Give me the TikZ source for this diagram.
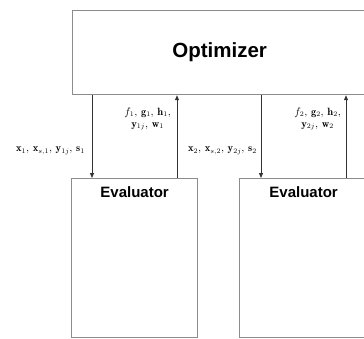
\documentclass[tikz,border=0pt]{standalone}
\usepackage{fontspec}
\setsansfont{Liberation Sans}
\usetikzlibrary{arrows.meta,positioning}
\begin{document}
\begin{tikzpicture}[x=1pt,y=-1pt,
  box/.style={draw=black!45,line width=1.2pt,fill=white,inner sep=0pt},
  arr/.style={draw=black!80,line width=0.8pt,-{Triangle[length=5pt,width=4pt]}},
  lab/.style={font=\fontsize{10.5}{12}\selectfont,inner sep=1pt,align=center},
  evt/.style={font=\sffamily\bfseries\fontsize{15}{17}\selectfont}]
\useasboundingbox (0,0) rectangle (364,338);
\clip (0,0) rectangle (364,338);
\node[box,anchor=north west,minimum width=294pt,minimum height=84pt,
  font=\sffamily\bfseries\fontsize{20.5}{24}\selectfont] (opt) at (72,10) {Optimizer};
\node[box,anchor=north west,minimum width=126pt,minimum height=159pt] (ev1) at (71,178) {};
\node[box,anchor=north west,minimum width=128pt,minimum height=159pt] (ev2) at (239,178) {};
\node[evt,below=5pt of ev1.north] (ev1t) {Evaluator};
\node[evt,below=5pt of ev2.north] (ev2t) {Evaluator};
% connectors
\coordinate (d1) at ([xshift=20pt]opt.south west);
\coordinate (u1) at ([xshift=105pt]opt.south west);
\coordinate (d2) at ([xshift=189pt]opt.south west);
\coordinate (u2) at ([xshift=274pt]opt.south west);
\draw[arr] (d1) -- (d1 |- ev1.north);
\draw[arr] (u1 |- ev1.north) -- (u1);
\draw[arr] (d2) -- (d2 |- ev2.north);
\draw[arr] (u2 |- ev2.north) -- (u2);
% labels
\node[lab,anchor=east] (l1) at (86,151) {$\mathbf{x}_1,\,\mathbf{x}_{s,1},\,\mathbf{y}_{1j},\,\mathbf{s}_1$};
\node[lab,anchor=east] (l2) at (172,119) {$f_1,\,\mathbf{g}_1,\,\mathbf{h}_1,$\\[0pt]$\mathbf{y}_{1j},\,\mathbf{w}_1$};
\node[lab,anchor=east] (l3) at (258,151) {$\mathbf{x}_2,\,\mathbf{x}_{s,2},\,\mathbf{y}_{2j},\,\mathbf{s}_2$};
\node[lab,anchor=east] (l4) at (342,119) {$f_2,\,\mathbf{g}_2,\,\mathbf{h}_2,$\\[0pt]$\mathbf{y}_{2j},\,\mathbf{w}_2$};
\end{tikzpicture}
\end{document}
